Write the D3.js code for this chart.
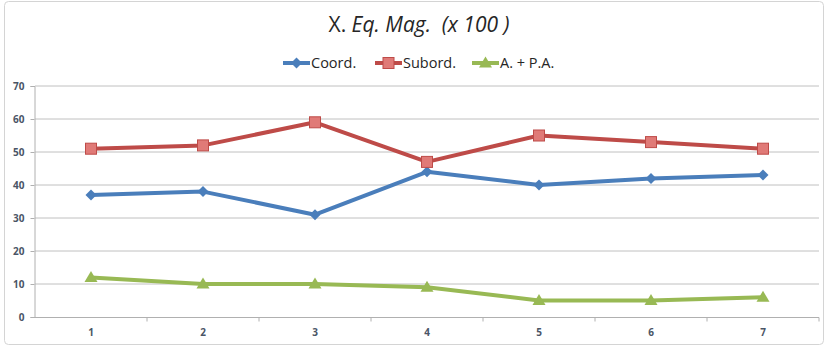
<!DOCTYPE html>
<html><head><meta charset="utf-8">
<script src="https://cdn.jsdelivr.net/npm/d3@7"></script>
<style>body{margin:0;background:#fff}svg{display:block}</style>
</head><body>
<script>
const categories = ["1","2","3","4","5","6","7"];
const coord = [37, 38, 31, 44, 40, 42, 43];
const subord = [51, 52, 59, 47, 55, 53, 51];
const apa = [12, 10, 10, 9, 5, 5, 6];
const yTicks = [0,10,20,30,40,50,60,70];
const seriesNames = ["Coord.", "Subord.", "A. + P.A."];

const W = 828, H = 349;
const svg = d3.select("body").append("svg").attr("width", W).attr("height", H);
svg.append("rect").attr("x",4.5).attr("y",1.5).attr("width",819).attr("height",343)
  .attr("rx",4).attr("fill","#fff").attr("stroke","#d4d4d4");

const x = d3.scaleBand().domain(categories).range([35, 819]);
const y = d3.scaleLinear().domain([0,70]).range([317, 86]);

// gridlines
svg.append("g").selectAll("line").data(yTicks.slice(1)).join("line")
  .attr("x1",35).attr("x2",819).attr("y1",d=>y(d)).attr("y2",d=>y(d))
  .attr("stroke","#c0c0c0").attr("stroke-width",1);

// y axis
const ya = svg.append("g").attr("transform","translate(34.5,0)")
  .call(d3.axisLeft(y).tickValues(yTicks).tickSize(4).tickPadding(6));
ya.select(".domain").attr("stroke","#b0b0b0");
ya.selectAll(".tick line").attr("stroke","#b0b0b0");
ya.selectAll("text").attr("font-family","Open Sans, sans-serif").attr("font-size",10)
  .attr("font-weight","bold").attr("fill","#4a5566");

// x axis
const xa = svg.append("g").attr("transform","translate(0,317.5)");
xa.append("line").attr("x1",35).attr("x2",819).attr("stroke","#b0b0b0");
const bounds = categories.map((c,i)=>x(c)).concat([x.range()[1]]);
xa.selectAll(".tk").data(bounds.slice(1)).join("line").attr("class","tk")
  .attr("x1",d=>d).attr("x2",d=>d).attr("y1",0).attr("y2",4).attr("stroke","#b0b0b0");
xa.selectAll("text").data(categories).join("text")
  .attr("x",d=>x(d)+x.bandwidth()/2).attr("y",18).attr("text-anchor","middle")
  .attr("font-family","Open Sans, sans-serif").attr("font-size",10).attr("font-weight","bold")
  .attr("fill","#4a5566").text(d=>d);

const colors = ["#4a7ebb","#be4b48","#98b954"];
const data = [coord, subord, apa];
const cx = (d,i)=>x(categories[i])+x.bandwidth()/2;
const line = d3.line().x((d,i)=>cx(d,i)).y(d=>y(d));

function marker(g, type, color, px, py){
  if(type===0){
    g.append("path").attr("d",`M${px},${py-5.5}L${px+5.5},${py}L${px},${py+5.5}L${px-5.5},${py}Z`).attr("fill",color);
  } else if(type===1){
    g.append("rect").attr("x",px-5.5).attr("y",py-5.5).attr("width",11).attr("height",11)
      .attr("fill","#e07a77").attr("stroke",color).attr("stroke-width",1);
  } else {
    g.append("path").attr("d",`M${px},${py-6.5}L${px+6.5},${py+4.5}L${px-6.5},${py+4.5}Z`).attr("fill",color);
  }
}

data.forEach((s,k)=>{
  svg.append("path").datum(s).attr("d",line).attr("fill","none")
    .attr("stroke",colors[k]).attr("stroke-width",4).attr("stroke-linejoin","round");
  const g = svg.append("g");
  s.forEach((v,i)=>marker(g,k,colors[k],cx(v,i),y(v)));
});

// title
const t = svg.append("text").attr("x",419).attr("y",32).attr("text-anchor","middle")
  .attr("font-family","Open Sans, sans-serif").attr("font-size",21).attr("fill","#262626");
t.append("tspan").text("X. ");
t.append("tspan").attr("font-style","italic").text("Eq. Mag.\u00a0\u00a0(x 100 )");

// legend
const legX = [283, 375, 472];
const lg = svg.append("g");
seriesNames.forEach((n,k)=>{
  lg.append("line").attr("x1",legX[k]).attr("x2",legX[k]+27).attr("y1",63).attr("y2",63)
    .attr("stroke",colors[k]).attr("stroke-width",4);
  marker(lg,k,colors[k],legX[k]+13.5,63);
  lg.append("text").attr("x",legX[k]+28).attr("y",68).attr("font-family","Open Sans, sans-serif")
    .attr("font-size",14.5).attr("fill","#262626").text(n);
});
</script>
</body></html>
